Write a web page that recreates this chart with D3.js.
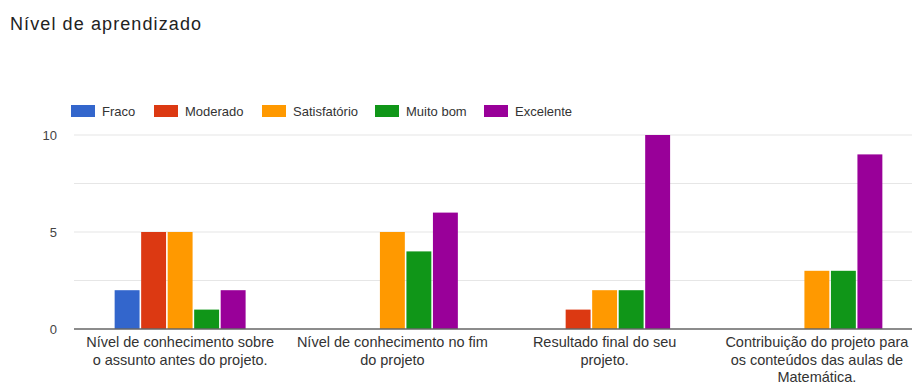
<!DOCTYPE html>
<html>
<head>
<meta charset="utf-8">
<script src="https://cdn.jsdelivr.net/npm/d3@7"></script>
<style>
  body { margin: 0; background: #fff; }
  text { font-family: "Liberation Sans", Arial, sans-serif; }
</style>
</head>
<body>
<svg id="svg"></svg>
<script>
// dados
var categorias = [
    ["Nível de conhecimento sobre", "o assunto antes do projeto."],
    ["Nível de conhecimento no fim", "do projeto"],
    ["Resultado final do seu", "projeto."],
    ["Contribuição do projeto para", "os conteúdos das aulas de", "Matemática."]
];
var series = ["Fraco", "Moderado", "Satisfatório", "Muito bom", "Excelente"];
var cores = ["#3366cc", "#dc3912", "#ff9900", "#109618", "#990099"];
var fraco = [2, 0, 0, 0];
var moderado = [5, 0, 1, 0];
var satisfatorio = [5, 5, 2, 3];
var muitoBom = [1, 4, 2, 3];
var excelente = [2, 6, 10, 9];
var yTicks = [0, 5, 10];
var gridTicks = [0, 2.5, 5, 7.5, 10];

var valores = [fraco, moderado, satisfatorio, muitoBom, excelente];

var width = 912, height = 385;
var margin = {left: 74, right: -11, top: 135, bottom: 56};
var plotH = height - margin.top - margin.bottom;
var plotW = width - margin.left - margin.right;

var svg = d3.select("#svg").attr("width", width).attr("height", height);

svg.append("text")
    .attr("x", 10).attr("y", 30)
    .attr("font-size", 18)
    .attr("letter-spacing", 1.1)
    .attr("fill", "#222")
    .text("Nível de aprendizado");

var x0 = d3.scaleBand().domain(d3.range(categorias.length))
    .range([margin.left, margin.left + plotW])
    .paddingInner(0.383).paddingOuter(0.1915);
var x1 = d3.scaleBand().domain(d3.range(series.length))
    .range([0, x0.bandwidth()]).paddingInner(0.06);
var y = d3.scaleLinear().domain([0, 10]).range([margin.top + plotH, margin.top]);

// linhas de grade
svg.append("g").selectAll("line")
    .data(gridTicks.filter(d => d > 0))
    .join("line")
    .attr("x1", margin.left).attr("x2", width)
    .attr("y1", d => y(d)).attr("y2", d => y(d))
    .attr("stroke", "#e6e6e6").attr("stroke-width", 1.2);

// eixo y
var yAxis = svg.append("g")
    .attr("transform", `translate(${margin.left - 17},0)`)
    .call(d3.axisLeft(y).tickValues(yTicks).tickSize(0).tickPadding(0));
yAxis.select(".domain").remove();
yAxis.selectAll("text").attr("font-size", 13).attr("fill", "#444")
    .style("font-family", "'Liberation Sans', Arial, sans-serif");

// barras
var grupos = svg.append("g").selectAll("g")
    .data(categorias.map((c, i) => i))
    .join("g")
    .attr("transform", i => `translate(${x0(i)},0)`);

grupos.selectAll("rect")
    .data(i => valores.map((v, s) => ({s: s, v: v[i]})))
    .join("rect")
    .attr("x", d => x1(d.s))
    .attr("width", x1.bandwidth())
    .attr("y", d => y(d.v))
    .attr("height", d => y(0) - y(d.v))
    .attr("fill", d => cores[d.s]);

// linha do zero
svg.append("line")
    .attr("x1", margin.left).attr("x2", width)
    .attr("y1", y(0)).attr("y2", y(0))
    .attr("stroke", "#666").attr("stroke-width", 1.5);

// rótulos do eixo x
var rotulos = svg.append("g").selectAll("text")
    .data(categorias)
    .join("text")
    .attr("text-anchor", "middle")
    .attr("font-size", 14.5)
    .attr("fill", "#333")
    .attr("transform", (c, i) => `translate(${x0(i) + x0.bandwidth() / 2},${y(0) + 18})`);
rotulos.selectAll("tspan")
    .data(c => c)
    .join("tspan")
    .attr("x", 0)
    .attr("y", (d, j) => j * 17.5)
    .text(d => d);

// legenda
var legX = [71, 154, 262, 375, 484];
var leg = svg.append("g").selectAll("g")
    .data(series)
    .join("g")
    .attr("transform", (d, i) => `translate(${legX[i]},105)`);
leg.append("rect").attr("width", 24).attr("height", 12).attr("fill", (d, i) => cores[i]);
leg.append("text").attr("x", 31).attr("y", 11)
    .attr("font-size", 13).attr("fill", "#333").text(d => d);
</script>
</body>
</html>
